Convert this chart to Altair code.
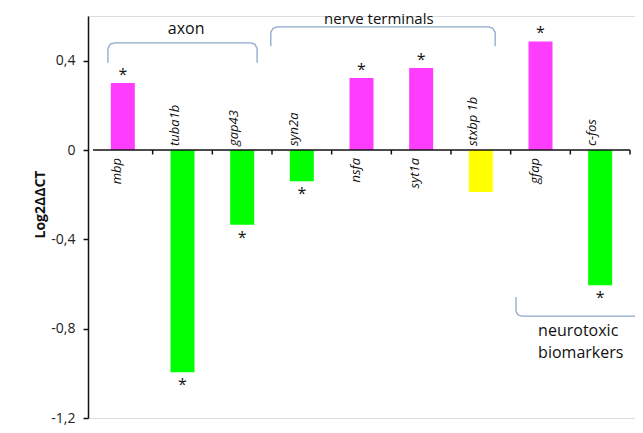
import altair as alt
import pandas as pd

# ---- data ----
genes = ["mbp", "tuba1b", "gap43", "syn2a", "nsfa", "syt1a", "stxbp 1b", "gfap", "c-fos"]
values = [0.30, -0.995, -0.335, -0.14, 0.322, 0.367, -0.188, 0.486, -0.606]
signif = [True, True, True, True, True, True, False, True, True]
colors = ["#FF3DFF", "#00FF00", "#00FF00", "#00FF00", "#FF3DFF", "#FF3DFF", "#FFFF00", "#FF3DFF", "#00FF00"]
y_ticks = [-1.2, -0.8, -0.4, 0, 0.4]

# bracket annotations (x in category-position units, y in data units)
bracket_names = ["axon", "nerve", "neuro"]
bracket_x = [[0.25, 0.25, 0.29, 0.36, 2.64, 2.71, 2.75, 2.75],
             [2.98, 2.98, 3.02, 3.09, 6.63, 6.70, 6.74, 6.74],
             [7.09, 7.09, 7.12, 7.19, 9.13]]
bracket_y = [[0.391, 0.455, 0.474, 0.48, 0.48, 0.474, 0.455, 0.391],
             [0.465, 0.527, 0.545, 0.551, 0.551, 0.545, 0.527, 0.465],
             [-0.658, -0.722, -0.738, -0.744, -0.744]]
group_text = ["axon", "nerve terminals", "neurotoxic", "biomarkers"]
group_text_x = [1.56, 4.79, 7.46, 7.46]
group_text_y = [0.521, 0.562, -0.835, -0.932]
group_text_size = [16, 15, 16, 16]
group_text_align = ["center", "center", "left", "left"]

# ---- tables ----
pos = [i + 0.5 for i in range(len(genes))]
df = pd.DataFrame({"gene": genes, "value": values, "pos": pos, "color": colors,
                   "sig": signif})
df["star"] = df["sig"].map(lambda s: "*" if s else "")
pos_df = df[df["value"] > 0]
neg_df = df[df["value"] < 0]

br_rows = []
for name, xs, ys in zip(bracket_names, bracket_x, bracket_y):
    for k, (xx, yy) in enumerate(zip(xs, ys)):
        br_rows.append({"b": name, "o": k, "x": xx, "y": yy})
br_df = pd.DataFrame(br_rows)

gt_df = pd.DataFrame({"t": group_text, "x": group_text_x, "y": group_text_y,
                      "a": group_text_align, "s": group_text_size})

axis_df = pd.DataFrame({"x": [0], "x2": [len(genes)], "y": [0]})
tick_df = pd.DataFrame({"x": list(range(1, len(genes) + 1)), "y": [0] * len(genes),
                        "y2": [-0.02] * len(genes)})

FONT = "Open Sans"
xscale = alt.Scale(domain=[0, len(genes)], nice=False, zero=False)
yscale = alt.Scale(domain=[-1.2, 0.6], nice=False)

xenc = alt.X("pos:Q", scale=xscale, axis=None)

bars = alt.Chart(df).mark_bar(size=24).encode(
    x=xenc,
    y=alt.Y("value:Q", scale=yscale,
            axis=alt.Axis(values=y_ticks,
                          labelExpr="replace(toString(datum.value), '.', ',')",
                          title="Log2ΔΔCT", titleFont=FONT, titleFontSize=14,
                          titleFontWeight="bold", titleColor="#111",
                          titleAngle=270, titleX=-48, titleY=188,
                          titleAlign="center", titleBaseline="middle",
                          labelFont=FONT, labelFontSize=14, labelColor="#222",
                          labelPadding=8, tickSize=5, tickColor="#111",
                          domainColor="#111", domainWidth=1.5, tickWidth=1.5,
                          grid=False)),
    color=alt.Color("color:N", scale=None),
)

xaxis_line = alt.Chart(axis_df).mark_rule(color="#111", strokeWidth=1.5).encode(
    x=alt.X("x:Q", scale=xscale, axis=None), x2="x2:Q",
    y=alt.Y("y:Q", scale=yscale))
xticks = alt.Chart(tick_df).mark_rule(color="#111", strokeWidth=1.5).encode(
    x=alt.X("x:Q", scale=xscale, axis=None),
    y=alt.Y("y:Q", scale=yscale), y2="y2:Q")

lab_pos = alt.Chart(pos_df).mark_text(
    angle=270, align="right", baseline="alphabetic", dx=-8, dy=-2,
    font=FONT, fontSize=13, fontStyle="italic", color="#111").encode(
    x=alt.X("pos:Q", scale=xscale, axis=None),
    y=alt.Y("zero:Q", scale=yscale), text="gene:N").transform_calculate(zero="0")
lab_neg = alt.Chart(neg_df).mark_text(
    angle=270, align="left", baseline="alphabetic", dx=4, dy=-4,
    font=FONT, fontSize=13, fontStyle="italic", color="#111").encode(
    x=alt.X("pos:Q", scale=xscale, axis=None),
    y=alt.Y("zero:Q", scale=yscale), text="gene:N").transform_calculate(zero="0")

star_pos = alt.Chart(pos_df).mark_text(
    baseline="middle", dy=-8, font=FONT, fontSize=16, color="#111").encode(
    x=alt.X("pos:Q", scale=xscale, axis=None),
    y=alt.Y("value:Q", scale=yscale), text="star:N")
star_neg = alt.Chart(neg_df).mark_text(
    baseline="middle", dy=13, font=FONT, fontSize=16, color="#111").encode(
    x=alt.X("pos:Q", scale=xscale, axis=None),
    y=alt.Y("value:Q", scale=yscale), text="star:N")

brackets = alt.Chart(br_df).mark_line(color="#8FA8CC", strokeWidth=1.3).encode(
    x=alt.X("x:Q", scale=xscale, axis=None),
    y=alt.Y("y:Q", scale=yscale), detail="b:N", order="o:Q")

gtext_c = alt.Chart(gt_df[gt_df["a"] == "center"]).mark_text(
    align="center", baseline="alphabetic", font=FONT, color="#111").encode(
    x=alt.X("x:Q", scale=xscale, axis=None),
    y=alt.Y("y:Q", scale=yscale), text="t:N",
    size=alt.Size("s:Q", scale=None, legend=None))
gtext_l = alt.Chart(gt_df[gt_df["a"] == "left"]).mark_text(
    align="left", baseline="alphabetic", font=FONT, color="#111").encode(
    x=alt.X("x:Q", scale=xscale, axis=None),
    y=alt.Y("y:Q", scale=yscale), text="t:N",
    size=alt.Size("s:Q", scale=None, legend=None))

chart = alt.layer(bars, xaxis_line, xticks, lab_pos, lab_neg, star_pos, star_neg,
                  brackets, gtext_c, gtext_l).properties(
    width=547, height=402,
    autosize=alt.AutoSizeParams(type="none"),
    padding={"left": 80, "top": 8, "right": 0, "bottom": 7},
).configure_view(stroke=None).configure(background="white")

chart.save("out.html", embed_options={"renderer": "svg", "actions": False})
